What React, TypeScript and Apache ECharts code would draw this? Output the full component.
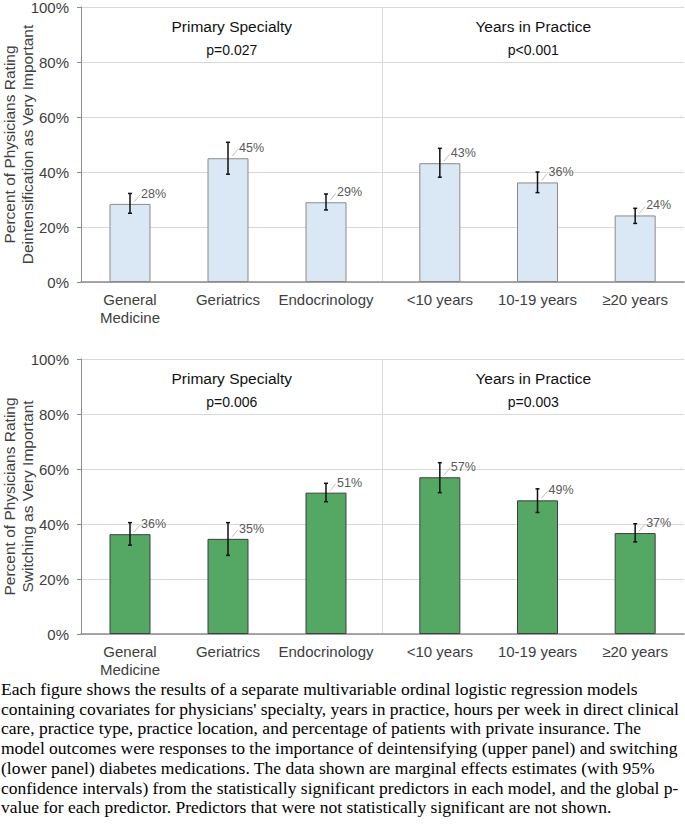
import React, { useEffect, useRef } from 'react';
import * as echarts from 'echarts';

// ---------- data ----------
const specialtyCategories = ['General\nMedicine', 'Geriatrics', 'Endocrinology'];
const yearsCategories = ['<10 years', '10-19 years', '≥20 years'];
const groupTitles = ['Primary Specialty', 'Years in Practice'];

const yTicks = [0, 20, 40, 60, 80, 100];

// Upper panel: deintensification
const deintPValues = ['p=0.027', 'p<0.001'];
const deintSpecialty = [28.4, 45.0, 29.0];
const deintSpecialtyLow = [25.0, 39.2, 26.2];
const deintSpecialtyHigh = [32.2, 50.8, 32.0];
const deintYears = [43.2, 36.2, 24.2];
const deintYearsLow = [38.1, 32.5, 21.3];
const deintYearsHigh = [48.6, 40.0, 26.8];

// Lower panel: switching
const switchPValues = ['p=0.006', 'p=0.003'];
const switchSpecialty = [36.3, 34.6, 51.4];
const switchSpecialtyLow = [32.3, 28.6, 48.1];
const switchSpecialtyHigh = [40.5, 40.5, 54.8];
const switchYears = [57.0, 48.6, 36.7];
const switchYearsLow = [51.4, 44.2, 33.5];
const switchYearsHigh = [62.3, 52.8, 40.1];

const captionLines = [
  'Each figure shows the results of a separate multivariable ordinal logistic regression models',
  "containing covariates for physicians' specialty, years in practice, hours per week in direct clinical",
  'care, practice type, practice location, and percentage of patients with private insurance. The',
  'model outcomes were responses to the importance of deintensifying (upper panel) and switching',
  '(lower panel) diabetes medications. The data shown are marginal effects estimates (with 95%',
  'confidence intervals) from the statistically significant predictors in each model, and the global p-',
  'value for each predictor. Predictors that were not statistically significant are not shown.',
];

// ---------- styles ----------
const SANS = '"Liberation Sans", Arial, sans-serif';
const SERIF = '"Liberation Serif", "Times New Roman", serif';
const AXIS_GRAY = '#8c8c8c';
const GRID_GRAY = '#d9d9d9';
const TEXT_DARK = '#404040';

const panels = [
  {
    top: 7,
    yName: 'Percent of Physicians Rating\nDeintensification as Very Important',
    pValues: deintPValues,
    left: { values: deintSpecialty, low: deintSpecialtyLow, high: deintSpecialtyHigh },
    right: { values: deintYears, low: deintYearsLow, high: deintYearsHigh },
    fill: '#DAE8F5',
    border: '#8a8a8a',
  },
  {
    top: 359,
    yName: 'Percent of Physicians Rating\nSwitching as Very Important',
    pValues: switchPValues,
    left: { values: switchSpecialty, low: switchSpecialtyLow, high: switchSpecialtyHigh },
    right: { values: switchYears, low: switchYearsLow, high: switchYearsHigh },
    fill: '#55A863',
    border: '#3f3f3f',
  },
];

function buildOption() {
  const grid: any[] = [];
  const xAxis: any[] = [];
  const yAxis: any[] = [];
  const series: any[] = [];
  const H = 275;

  panels.forEach((p, pi) => {
    const g0 = pi * 3;
    const gbase = { top: p.top, height: H, outerBoundsMode: 'none', containLabel: false };
    grid.push({ ...gbase, left: 81, width: 603 });
    grid.push({ ...gbase, left: 81, width: 294 });
    grid.push({ ...gbase, left: 391, width: 293 });

    const xBase = pi * 4;
    // header axis (top) with group titles and p-values, and separator split line
    xAxis.push({
      type: 'category',
      gridIndex: g0,
      position: 'top',
      data: groupTitles,
      boundaryGap: true,
      axisLine: { show: false },
      axisTick: { show: false },
      axisLabel: {
        inside: true,
        margin: 8,
        interval: 0,
        formatter: (v: string, i: number) => `{t|${v}}\n{p|${p.pValues[i]}}`,
        rich: {
          t: { fontFamily: SANS, fontSize: 15.5, lineHeight: 23, color: '#111' },
          p: { fontFamily: SANS, fontSize: 14, lineHeight: 23, color: '#111' },
        },
      },
      splitLine: {
        show: true,
        showMinLine: false,
        showMaxLine: false,
        lineStyle: { color: GRID_GRAY, width: 1 },
      },
    });
    // bottom baseline axis
    xAxis.push({
      type: 'category',
      gridIndex: g0,
      position: 'bottom',
      data: [''],
      axisLine: { show: true, lineStyle: { color: AXIS_GRAY, width: 1.5 } },
      axisTick: { show: false },
      axisLabel: { show: false },
      splitLine: { show: false },
    });
    const catAxis = (gi: number, data: string[]) => ({
      type: 'category',
      gridIndex: gi,
      position: 'bottom',
      data,
      axisLine: { show: false },
      axisTick: { show: false },
      axisLabel: {
        interval: 0,
        margin: 8,
        fontFamily: SANS,
        fontSize: 15,
        lineHeight: 18,
        color: TEXT_DARK,
      },
      splitLine: { show: false },
    });
    xAxis.push(catAxis(g0 + 1, specialtyCategories));
    xAxis.push(catAxis(g0 + 2, yearsCategories));

    yAxis.push({
      type: 'value',
      gridIndex: g0,
      min: yTicks[0],
      max: yTicks[yTicks.length - 1],
      interval: 20,
      name: p.yName,
      nameLocation: 'middle',
      nameGap: 45,
      nameMoveOverlap: false,
      nameTextStyle: { fontFamily: SANS, fontSize: 15.5, lineHeight: 18, color: TEXT_DARK },
      axisLine: { show: true, lineStyle: { color: AXIS_GRAY, width: 1 } },
      axisTick: { show: true, length: 4, lineStyle: { color: AXIS_GRAY } },
      axisLabel: {
        formatter: '{value}%',
        margin: 12,
        fontFamily: SANS,
        fontSize: 15,
        color: TEXT_DARK,
      },
      splitLine: { show: true, lineStyle: { color: GRID_GRAY, width: 1 } },
    });
    yAxis.push({ type: 'value', gridIndex: g0 + 1, min: 0, max: 100, show: false });
    yAxis.push({ type: 'value', gridIndex: g0 + 2, min: 0, max: 100, show: false });

    const sides = [p.left, p.right];
    sides.forEach((s, si) => {
      const xi = xBase + 2 + si;
      const yi = g0 + 1 + si;
      series.push({
        type: 'bar',
        xAxisIndex: xi,
        yAxisIndex: yi,
        data: s.values,
        barWidth: 41,
        itemStyle: { color: p.fill, borderColor: p.border, borderWidth: 1 },
        silent: true,
        z: 2,
      });
      series.push({
        type: 'custom',
        xAxisIndex: xi,
        yAxisIndex: yi,
        z: 5,
        silent: true,
        data: s.values.map((v, i) => [i, v, s.low[i], s.high[i]]),
        renderItem: (params: any, api: any) => {
          const top = api.coord([api.value(0), api.value(1)]);
          const lo = api.coord([api.value(0), api.value(2)]);
          const hi = api.coord([api.value(0), api.value(3)]);
          const cx = top[0];
          const ty = top[1];
          const cap = 2;
          const ls = { stroke: '#111', lineWidth: 1.5 };
          return {
            type: 'group',
            children: [
              { type: 'line', shape: { x1: cx, y1: lo[1], x2: cx, y2: hi[1] }, style: ls },
              { type: 'line', shape: { x1: cx - cap, y1: lo[1], x2: cx + cap, y2: lo[1] }, style: ls },
              { type: 'line', shape: { x1: cx - cap, y1: hi[1], x2: cx + cap, y2: hi[1] }, style: ls },
              {
                type: 'line',
                shape: { x1: cx + 4, y1: ty - 2, x2: cx + 10, y2: ty - 9 },
                style: { stroke: '#b0b0b0', lineWidth: 0.8 },
              },
              {
                type: 'text',
                x: cx + 11,
                y: ty - 10,
                style: {
                  text: Math.round(api.value(1)) + '%',
                  fill: '#595959',
                  font: `12.5px ${SANS}`,
                  textAlign: 'left',
                  textVerticalAlign: 'middle',
                },
              },
            ],
          };
        },
      });
    });
  });

  const graphic = captionLines.map((line, i) => ({
    type: 'text',
    x: 1,
    y: 689 + i * 19.7,
    silent: true,
    style: {
      text: line,
      fill: '#000',
      font: `17.5px ${SERIF}`,
      textAlign: 'left',
      textVerticalAlign: 'middle',
    },
  }));

  return {
    animation: false,
    backgroundColor: '#ffffff',
    grid,
    xAxis,
    yAxis,
    series,
    graphic,
  };
}

export default function App() {
  const ref = useRef<HTMLDivElement>(null);
  useEffect(() => {
    if (!ref.current) return;
    const chart = echarts.init(ref.current, undefined, { renderer: 'svg' });
    chart.setOption(buildOption() as any);
    return () => chart.dispose();
  }, []);
  return (
    <div
      ref={ref}
      style={{ position: 'absolute', left: 0, top: 0, width: 685, height: 827 }}
    />
  );
}
